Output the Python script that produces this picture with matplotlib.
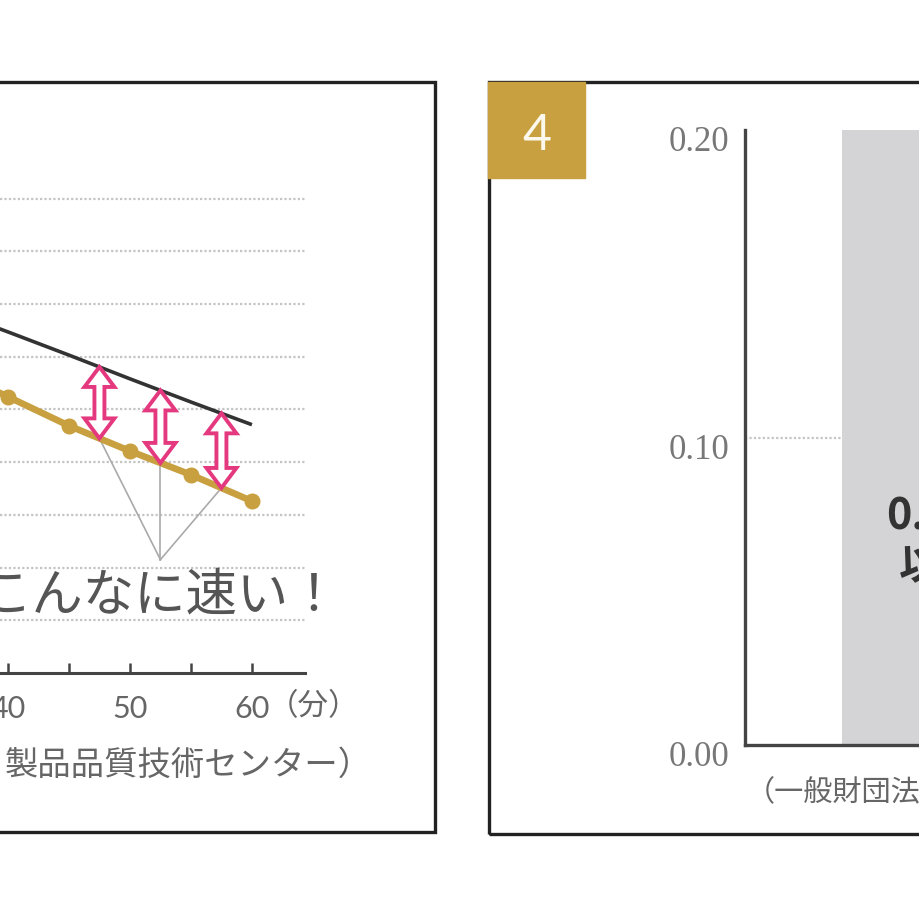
import matplotlib
matplotlib.use("Agg")
import matplotlib.pyplot as plt
import numpy as np
from matplotlib.patches import Rectangle, Polygon
from matplotlib import transforms

plt.rcParams['font.family'] = ['Noto Sans CJK JP', 'DejaVu Sans']

# ---------------- data ----------------
# left chart (time in minutes, values in grid units)
minutes = [35, 40, 45, 50, 55, 60]
black_line = [6.90, 6.47, 6.03, 5.58, 5.14, 4.71]
gold_line = [5.78, 5.24, 4.69, 4.21, 3.76, 3.26]
arrow_minutes = [47.5, 52.5, 57.5]
grid_levels = [1, 2, 3, 4, 5, 6, 7, 8, 9]
x_ticks = [40, 45, 50, 55, 60]
x_ticklabels = ['40', '', '50', '', '60']
callout_text = 'こんなに速い！'
left_source = '製品品質技術センター）'
x_unit = '（分）'

# right chart
bar_positions = [0]
bar_values = [0.20]
y_ticks = [0.00, 0.10, 0.20]
y_ticklabels = ['0.00', '0.10', '0.20']
panel_number = '4'
bar_text_1 = '0.0'
bar_text_2 = '以下'
right_source = '（一般財団法人'

# ---------------- figure ----------------
W = H = 920
fig = plt.figure(figsize=(9.2, 9.2), dpi=100)
fig.patch.set_facecolor('white')


def fx(px):
    return px / W


def fy(py):
    return 1 - py / H


GOLD = '#c8a03f'
PINK = '#e4387f'

# ---------- left chart ----------
ax1 = fig.add_axes([0, fy(674), 305 / W, (674 - 83) / H])
ax1.set_xlim(39.35, 64.35)
ax1.set_ylim(0, 11.21)
for s in ['top', 'right', 'left']:
    ax1.spines[s].set_visible(False)
ax1.spines['bottom'].set_color('#444')
ax1.spines['bottom'].set_linewidth(2.2)
ax1.set_yticks([])
ax1.set_xticks(x_ticks)
ax1.set_xticklabels(x_ticklabels)
ax1.tick_params(axis='x', direction='in', length=7, width=1.8, color='#444',
                pad=15, labelsize=22, labelcolor='#666')
for lab in ax1.get_xticklabels():
    lab.set_fontfamily(['Lato', 'DejaVu Sans'])
for g in grid_levels:
    ax1.axhline(g, color='#c4c4c4', lw=1.6, ls=(0, (1, 1)), zorder=0)

ax1.plot(minutes, black_line, color='#333333', lw=2.6, zorder=3,
         solid_capstyle='butt')
ax1.plot(minutes, gold_line, color=GOLD, lw=4.8, marker='o', markersize=10.5,
         zorder=3)

# callout lines and arrows
callout_y = 2.15
arrow_top = np.interp(arrow_minutes, minutes, black_line)
arrow_bot = np.interp(arrow_minutes, minutes, gold_line)
for xm, yb in zip(arrow_minutes, arrow_bot):
    ax1.plot([xm, arrow_minutes[1]], [yb, callout_y], color='#aaaaaa', lw=1.2,
             zorder=2)

hw, bw, hl = 15, 5, 20
for xm, yt, yb in zip(arrow_minutes, arrow_top, arrow_bot):
    (x, ytp) = ax1.transData.transform((xm, yt))
    (_, ybp) = ax1.transData.transform((xm, yb))
    verts = [(x, ytp), (x + hw, ytp - hl), (x + bw, ytp - hl),
             (x + bw, ybp + hl), (x + hw, ybp + hl), (x, ybp),
             (x - hw, ybp + hl), (x - bw, ybp + hl), (x - bw, ytp - hl),
             (x - hw, ytp - hl)]
    poly = Polygon(verts, closed=True, facecolor='white', edgecolor=PINK,
                   lw=2.8, joinstyle='miter', zorder=4,
                   transform=transforms.IdentityTransform())
    ax1.add_patch(poly)

fig.text(fx(340), fy(596), callout_text, ha='right', va='center',
         fontsize=37, color='#555555')
fig.text(fx(268), fy(707), x_unit, ha='left', va='center', fontsize=22,
         color='#666666')
fig.text(fx(372), fy(765), left_source, ha='right', va='center', fontsize=24,
         color='#666666')

# left panel border
fig.add_artist(Rectangle((fx(-20), fy(833)), 455 / W, (833 - 83) / H,
                         fill=False, ec='#222222', lw=2.4,
                         transform=fig.transFigure, zorder=6))

# ---------- right chart ----------
ax2 = fig.add_axes([fx(745), fy(746), (1200 - 745) / W, (746 - 131) / H])
ax2.set_xlim(-0.785, -0.785 + 455 / 200)
ax2.set_ylim(0, 0.20)
for s in ['top', 'right']:
    ax2.spines[s].set_visible(False)
for s in ['left', 'bottom']:
    ax2.spines[s].set_color('#444')
    ax2.spines[s].set_linewidth(2.4)
ax2.set_xticks([])
ax2.set_yticks(y_ticks)
ax2.set_yticklabels(y_ticklabels)
ax2.tick_params(axis='y', length=0, pad=11, labelsize=25, labelcolor='#777777')
ax2.set_yticks([0.20], minor=True)
ax2.tick_params(axis='y', which='minor', direction='in', length=14, width=2.4,
                color='#444')
off = transforms.ScaledTranslation(0, -8 / 100, fig.dpi_scale_trans)
for lab in ax2.get_yticklabels():
    lab.set_fontfamily(['Liberation Serif', 'DejaVu Serif'])
    lab.set_transform(lab.get_transform() + off)
ax2.axhline(0.10, color='#c4c4c4', lw=1.6, ls=(0, (1, 1)), zorder=0)
ax2.bar(bar_positions, bar_values, width=0.6, color='#d4d4d6', zorder=2)

fig.text(fx(886), fy(517), bar_text_1, ha='left', va='center', fontsize=31,
         fontweight='bold', color='#333333')
fig.text(fx(899), fy(567), bar_text_2, ha='left', va='center', fontsize=30,
         fontweight='bold', color='#333333')
fig.text(fx(746), fy(793), right_source, ha='left', va='center', fontsize=21,
         color='#666666')

# right panel border and number box
fig.add_artist(Rectangle((fx(489), fy(835)), (1000 - 489) / W, (835 - 83) / H,
                         fill=False, ec='#222222', lw=2.4,
                         transform=fig.transFigure, zorder=6))
fig.add_artist(Rectangle((fx(488), fy(179)), 97 / W, 96 / H, color=GOLD,
                         transform=fig.transFigure, zorder=7))
fig.text(fx(537), fy(136), panel_number, ha='center', va='center',
         fontsize=36, color='#fdf8ec', family=['Lato', 'DejaVu Sans'],
         fontweight='normal', zorder=8)

fig.savefig('out.png', dpi=100, facecolor='white')
